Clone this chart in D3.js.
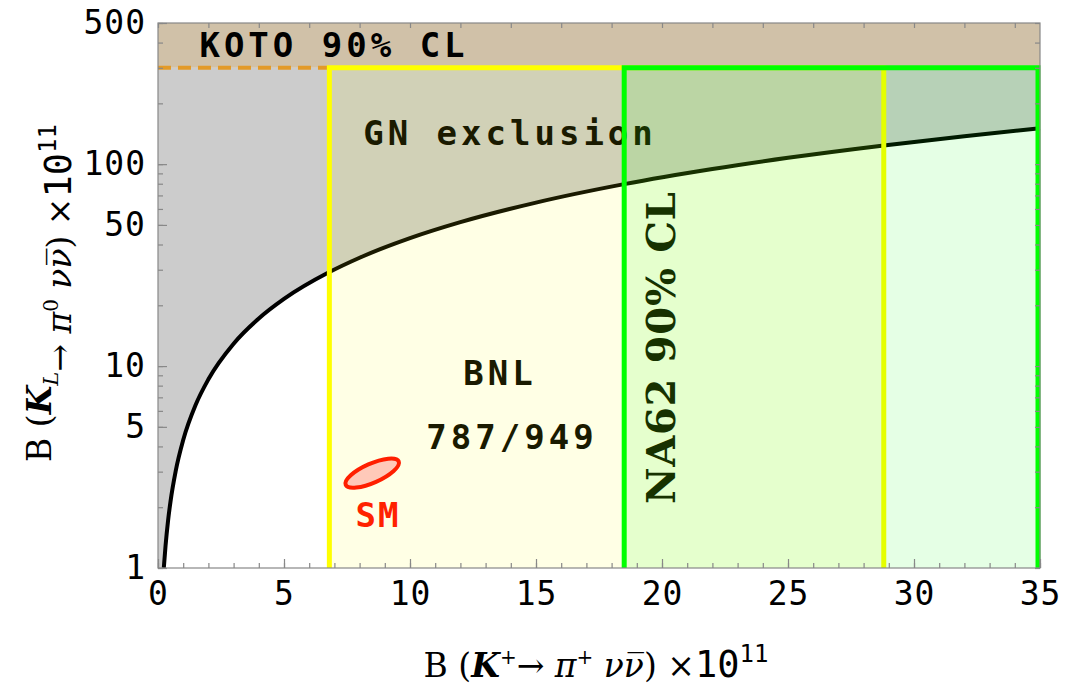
<!DOCTYPE html>
<html>
<head>
<meta charset="utf-8">
<script src="https://cdn.jsdelivr.net/npm/d3@7"></script>
<style>
  body { margin: 0; background: #fff; }
  svg { display: block; }
</style>
</head>
<body>
<div id="chart"></div>
<script>
const width = 1065;
const height = 685;

// axes
const xDomain = [0, 35];
const yDomain = [1, 500];
const xTicks = [0, 5, 10, 15, 20, 25, 30, 35];
const yTicks = [1, 5, 10, 50, 100, 500];

// experimental limits
const kotoLimit = 300;            // KL limit, x10^11
const bnlRange = [6.8, 28.8];     // BNL 787/949 K+ range
const na62Range = [18.5, 35];     // NA62 90% CL K+ range

// Grossman-Nir bound
const gnX = [0.23, 0.3, 0.4, 0.5, 0.7, 1, 1.5, 2, 3, 4, 5, 6.8, 8, 10, 12, 15, 18.5, 22, 25, 28.8, 32, 35];
const gnY = [1, 1.29, 1.72, 2.15, 3.01, 4.3, 6.45, 8.6, 12.9, 17.2, 21.5, 29.2, 34.4, 43, 51.6, 64.5, 79.6, 94.6, 107.5, 123.8, 137.6, 150.5];

// Standard Model point
const smCenter = [8.5, 2.95];

const x = d3.scaleLinear(xDomain, [158, 1040]);
const y = d3.scaleLog(yDomain, [568, 23]);

const svg = d3.select("#chart").append("svg")
    .attr("width", width)
    .attr("height", height);

const plot = svg.append("g");

// gray GN exclusion region (above the curve)
const gnPts = gnX.map((d, i) => [x(d), y(gnY[i])]);
const grayPts = [[x(0), y(1)]].concat(gnPts, [[x(35), y(kotoLimit)], [x(0), y(kotoLimit)]]);
plot.append("path")
    .attr("d", d3.line()(grayPts) + "Z")
    .attr("fill", "#cccccc");

// KOTO excluded region
plot.append("rect")
    .attr("x", x(0))
    .attr("y", y(500))
    .attr("width", x(35) - x(0))
    .attr("height", y(kotoLimit) - y(500))
    .attr("fill", "#d0c1a8");

plot.append("line")
    .attr("x1", x(0)).attr("x2", x(bnlRange[0]))
    .attr("y1", y(kotoLimit)).attr("y2", y(kotoLimit))
    .attr("stroke", "#e39a27")
    .attr("stroke-width", 4)
    .attr("stroke-dasharray", "13,7");

// GN curve
plot.append("path")
    .attr("d", d3.line().curve(d3.curveMonotoneX)(gnPts))
    .attr("fill", "none")
    .attr("stroke", "#000")
    .attr("stroke-width", 4);

const mono = "'DejaVu Sans Mono', monospace";

function label(txt, cx, cy, opts = {}) {
  return plot.append("text")
      .attr("x", cx)
      .attr("y", cy)
      .attr("text-anchor", "middle")
      .attr("dominant-baseline", "central")
      .attr("font-family", opts.family || mono)
      .attr("font-weight", "bold")
      .attr("font-size", opts.size || 34)
      .attr("letter-spacing", opts.spacing == null ? 4 : opts.spacing)
      .attr("fill", opts.color || "#000")
      .text(txt);
}

label("GN exclusion", 510, 133);
label("BNL", 500, 373);
label("787/949", 512, 437);
label("NA62 90% CL", 0, 0, { family: "'DejaVu Serif', serif", size: 40, spacing: 0 })
    .attr("textLength", 312)
    .attr("lengthAdjust", "spacing")
    .attr("transform", `translate(660,348) rotate(-90)`);

// BNL region
const bnlPath = `M${x(bnlRange[0])},${y(1)}V${y(kotoLimit)}H${x(bnlRange[1])}V${y(1)}`;
plot.append("rect")
    .attr("x", x(bnlRange[0])).attr("y", y(kotoLimit))
    .attr("width", x(bnlRange[1]) - x(bnlRange[0]))
    .attr("height", y(1) - y(kotoLimit))
    .attr("fill", "#ffff00").attr("fill-opacity", 0.1);
plot.append("path")
    .attr("d", bnlPath)
    .attr("fill", "none")
    .attr("stroke", "#ffff00")
    .attr("stroke-width", 5);

// NA62 region
const naPath = `M${x(na62Range[0])},${y(1)}V${y(kotoLimit)}H${x(na62Range[1]) - 2}V${y(1)}`;
plot.append("rect")
    .attr("x", x(na62Range[0])).attr("y", y(kotoLimit))
    .attr("width", x(na62Range[1]) - x(na62Range[0]))
    .attr("height", y(1) - y(kotoLimit))
    .attr("fill", "#00ff00").attr("fill-opacity", 0.1);
plot.append("path")
    .attr("d", naPath)
    .attr("fill", "none")
    .attr("stroke", "#00ff00")
    .attr("stroke-width", 5);

label("KOTO 90% CL", 334, 45);

// SM ellipse
plot.append("ellipse")
    .attr("transform", `translate(${x(smCenter[0])},${y(smCenter[1])}) rotate(-24)`)
    .attr("rx", 29).attr("ry", 9.5)
    .attr("fill", "#ffc9b9")
    .attr("stroke", "#ff1f00")
    .attr("stroke-width", 4);
label("SM", 378, 515, { color: "#ff2200", spacing: 2 });

// frame
svg.append("rect")
    .attr("x", x(0)).attr("y", y(500))
    .attr("width", x(35) - x(0))
    .attr("height", y(1) - y(500))
    .attr("fill", "none")
    .attr("stroke", "#888")
    .attr("stroke-width", 1.2);

// ticks
const yMinor = [];
[1, 10, 100].forEach(dec => d3.range(1, 10).forEach(m => { if (m * dec <= 500) yMinor.push(m * dec); }));

function styleAxis(g) {
  g.select(".domain").remove();
  g.selectAll(".tick line").attr("stroke", "#888").attr("stroke-width", 1.2);
  g.selectAll(".tick text")
      .attr("fill", "#000")
      .attr("font-family", mono)
      .attr("font-size", 33)
      .attr("letter-spacing", 1);
}

svg.append("g").attr("transform", `translate(0,${y(1)})`)
    .call(d3.axisBottom(x).tickValues(d3.range(0, 36)).tickSize(-5).tickFormat(""))
    .call(styleAxis);
svg.append("g").attr("transform", `translate(0,${y(1)})`)
    .call(d3.axisBottom(x).tickValues(xTicks).tickSize(-9).tickPadding(14).tickFormat(d3.format("d")))
    .call(styleAxis);
svg.append("g").attr("transform", `translate(0,${y(500)})`)
    .call(d3.axisTop(x).tickValues(d3.range(0, 36, 2)).tickSize(-5).tickFormat(""))
    .call(styleAxis);

svg.append("g").attr("transform", `translate(${x(0)},0)`)
    .call(d3.axisLeft(y).tickValues(yMinor).tickSize(-5).tickFormat(""))
    .call(styleAxis);
svg.append("g").attr("transform", `translate(${x(0)},0)`)
    .call(d3.axisLeft(y).tickValues(yTicks).tickSize(-9).tickPadding(12).tickFormat(d3.format("d")))
    .call(styleAxis);
svg.append("g").attr("transform", `translate(${x(35)},0)`)
    .call(d3.axisRight(y).tickValues(yMinor).tickSize(-5).tickFormat(""))
    .call(styleAxis);

// axis titles
const serif = "'DejaVu Serif', serif";

function axisTitle(g, sub, sup) {
  g.append("tspan").text("B (");
  g.append("tspan").attr("font-style", "italic").attr("font-weight", "bold").text("K");
  if (sub) g.append("tspan").attr("font-style", "italic").attr("font-size", 21).attr("dy", 7).text(sub);
  g.append("tspan").attr("font-size", 20).attr("dy", sub ? -20 : -13).text(sub ? "" : "+");
  g.append("tspan").attr("dy", 13).text("\u2192  ");
  g.append("tspan").attr("font-style", "italic").text("\u03c0");
  g.append("tspan").attr("font-size", 20).attr("dy", -13).text(sup);
  g.append("tspan").attr("dy", 13).attr("font-style", "italic").text(" \u03bd\u03bd\u0305");
  g.append("tspan").text(") \u00d7");
  g.append("tspan").attr("font-family", mono).attr("font-size", 37).text("10");
  g.append("tspan").attr("font-family", mono).attr("font-size", 24).attr("dy", -15).text("11");
}

const xt = svg.append("text")
    .attr("x", 596).attr("y", 677)
    .attr("text-anchor", "middle")
    .attr("font-family", serif)
    .attr("font-size", 33)
    .attr("fill", "#000");
axisTitle(xt, null, "+");

const yt = svg.append("text")
    .attr("transform", "translate(51,293) rotate(-90)")
    .attr("text-anchor", "middle")
    .attr("font-family", serif)
    .attr("font-size", 33)
    .attr("fill", "#000");
axisTitle(yt, "L", "0");
</script>
</body>
</html>
